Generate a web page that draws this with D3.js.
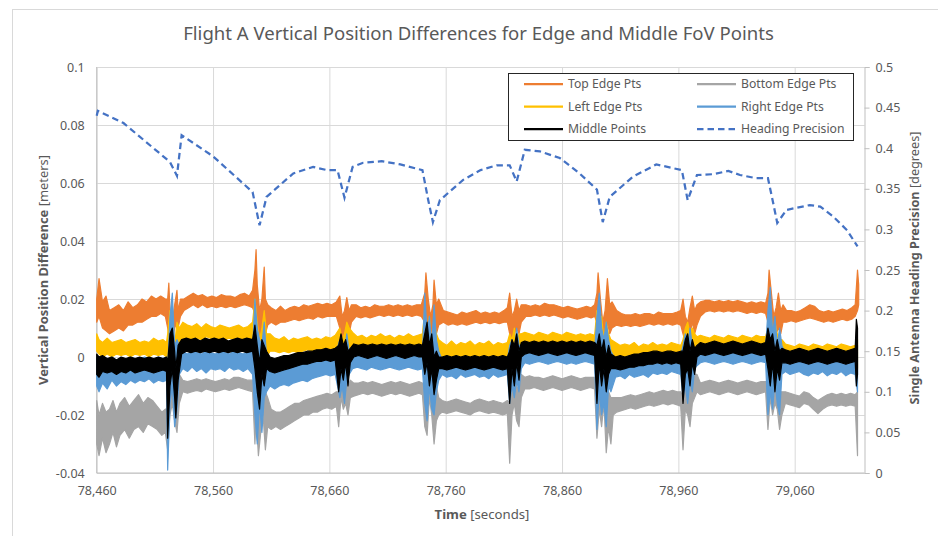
<!DOCTYPE html>
<html>
<head>
<meta charset="utf-8">
<script src="https://cdn.jsdelivr.net/npm/d3@7"></script>
<style>
  html, body { margin: 0; padding: 0; background: #fff; }
  svg { display: block; font-family: "Noto Sans", "Open Sans", sans-serif; }
</style>
</head>
<body>
<div id="vis"></div>
<script>
// ---------- DATA ----------
// each noisy series is kept as [time, low, high] envelope samples
const xTicks = [78460, 78560, 78660, 78760, 78860, 78960, 79060];
const leftTicks = [-0.04, -0.02, 0, 0.02, 0.04, 0.06, 0.08, 0.1];
const rightTicks = [0, 0.05, 0.1, 0.15, 0.2, 0.25, 0.3, 0.35, 0.4, 0.45, 0.5];

const topEdge = [
  [78460,0.012,0.020],[78462,0.014,0.027],[78465,0.010,0.019],[78468,0.009,0.021],[78471,0.008,0.016],[78475,0.009,0.017],
  [78479,0.010,0.018],[78483,0.009,0.016],[78487,0.011,0.019],[78491,0.011,0.017],[78495,0.012,0.018],[78499,0.012,0.020],
  [78503,0.013,0.019],[78507,0.014,0.021],[78511,0.014,0.020],[78515,0.015,0.021],[78519,0.014,0.020],
  [78521,0.010,0.020],[78522,0.008,0.0255],[78523,0.004,0.016],[78525,0.006,0.012],[78527,0.010,0.018],[78529,0.012,0.023],
  [78530,0.010,0.016],[78532,0.014,0.020],
  [78535,0.016,0.020],[78539,0.017,0.021],[78543,0.018,0.022],[78547,0.017,0.021],[78551,0.018,0.0215],[78555,0.017,0.0205],
  [78559,0.0175,0.021],[78563,0.017,0.0205],[78567,0.0175,0.0215],[78571,0.017,0.021],[78575,0.0175,0.021],[78579,0.017,0.0205],
  [78583,0.0175,0.0215],[78587,0.018,0.022],[78591,0.0175,0.021],[78594,0.017,0.023],
  [78596,0.015,0.030],[78597,0.018,0.037],[78598,0.008,0.025],[78600,0.005,0.016],[78602,0.010,0.020],[78604,0.012,0.031],
  [78605,0.008,0.020],[78607,0.011,0.018],
  [78610,0.012,0.017],[78614,0.011,0.016],[78618,0.012,0.0175],[78622,0.012,0.016],[78626,0.0125,0.017],[78630,0.013,0.0175],
  [78634,0.0125,0.017],[78638,0.013,0.018],[78642,0.0135,0.0175],[78646,0.013,0.018],[78650,0.014,0.0185],[78654,0.0135,0.018],
  [78658,0.014,0.0185],[78662,0.014,0.018],[78666,0.014,0.019],
  [78669,0.010,0.021],[78671,0.006,0.014],[78673,0.008,0.016],[78675,0.010,0.0205],[78677,0.008,0.016],[78679,0.012,0.018],
  [78683,0.014,0.018],[78687,0.0135,0.017],[78691,0.014,0.0175],[78695,0.0135,0.017],[78699,0.014,0.018],[78703,0.0145,0.0175],
  [78707,0.014,0.0175],[78711,0.0145,0.018],[78715,0.014,0.0175],[78719,0.0145,0.018],[78723,0.014,0.0175],[78727,0.0145,0.018],
  [78731,0.014,0.0175],[78735,0.0145,0.018],[78739,0.014,0.018],
  [78742,0.012,0.022],[78743,0.015,0.029],[78745,0.006,0.020],[78747,0.004,0.014],[78749,0.008,0.018],[78750,0.012,0.0265],
  [78752,0.008,0.018],[78754,0.011,0.020],
  [78758,0.012,0.016],[78762,0.011,0.0155],[78766,0.0115,0.015],[78770,0.011,0.0145],[78774,0.0115,0.0155],[78778,0.011,0.015],
  [78782,0.0115,0.0155],[78786,0.012,0.016],[78790,0.0115,0.015],[78794,0.012,0.0155],[78798,0.0115,0.015],[78802,0.012,0.0155],
  [78806,0.0115,0.015],[78810,0.012,0.016],[78813,0.012,0.017],
  [78815,0.008,0.022],[78817,0.006,0.014],[78819,0.008,0.016],[78821,0.010,0.020],[78823,0.008,0.016],[78825,0.012,0.018],
  [78829,0.014,0.018],[78833,0.014,0.0175],[78837,0.0145,0.018],[78841,0.014,0.0175],[78845,0.0145,0.0185],[78849,0.014,0.018],
  [78853,0.0145,0.018],[78857,0.014,0.0175],[78861,0.0135,0.017],[78865,0.014,0.0175],[78869,0.0135,0.017],[78873,0.013,0.0165],
  [78877,0.0135,0.017],[78881,0.014,0.0175],[78885,0.0135,0.017],[78888,0.014,0.018],
  [78890,0.012,0.022],[78891,0.015,0.029],[78893,0.006,0.020],[78895,0.003,0.012],[78897,0.006,0.016],[78899,0.012,0.027],
  [78901,0.008,0.018],[78903,0.010,0.019],
  [78907,0.011,0.016],[78911,0.0105,0.015],[78915,0.011,0.0145],[78919,0.0105,0.0145],[78923,0.011,0.015],[78927,0.0105,0.0145],
  [78931,0.011,0.015],[78935,0.0115,0.015],[78939,0.011,0.0145],[78943,0.0115,0.0155],[78947,0.011,0.015],[78951,0.0115,0.015],
  [78955,0.011,0.015],[78959,0.0115,0.0155],[78962,0.011,0.016],
  [78964,0.008,0.020],[78966,0.005,0.014],[78968,0.006,0.012],[78970,0.008,0.017],[78972,0.012,0.021],[78974,0.008,0.016],
  [78976,0.011,0.018],
  [78979,0.014,0.019],[78983,0.0155,0.0195],[78987,0.016,0.0195],[78991,0.0155,0.019],[78995,0.016,0.0195],[78999,0.0155,0.019],
  [79003,0.016,0.0195],[79007,0.0155,0.019],[79011,0.016,0.0195],[79015,0.0155,0.019],[79019,0.015,0.0185],[79023,0.0155,0.019],
  [79027,0.015,0.0185],[79031,0.0155,0.019],[79035,0.015,0.0185],
  [79037,0.012,0.022],[79038,0.016,0.030],[79040,0.008,0.022],[79042,0.004,0.014],[79044,0.008,0.017],[79046,0.010,0.022],
  [79048,0.008,0.016],[79050,0.012,0.018],
  [79053,0.012,0.016],[79057,0.0125,0.016],[79061,0.012,0.0155],[79065,0.0125,0.016],[79069,0.013,0.017],[79073,0.0135,0.018],
  [79077,0.013,0.0175],[79081,0.0125,0.016],[79085,0.012,0.0155],[79089,0.0125,0.016],[79093,0.012,0.0155],[79097,0.0125,0.016],
  [79101,0.013,0.0165],[79105,0.0125,0.016],[79109,0.013,0.017],[79112,0.014,0.018],
  [79114,0.016,0.030],[79115,0.018,0.025]
];

const bottomEdge = [
  [78460,-0.030,-0.015],[78462,-0.034,-0.020],[78465,-0.028,-0.016],[78468,-0.033,-0.019],[78471,-0.030,-0.018],[78474,-0.026,-0.015],
  [78477,-0.031,-0.019],[78480,-0.027,-0.016],[78484,-0.025,-0.014],[78488,-0.028,-0.017],[78492,-0.025,-0.015],[78496,-0.024,-0.013],
  [78500,-0.026,-0.016],[78504,-0.023,-0.014],[78508,-0.024,-0.015],[78512,-0.025,-0.017],[78516,-0.027,-0.019],[78519,-0.026,-0.018],
  [78521,-0.032,-0.018],[78523,-0.020,-0.004],[78525,-0.016,0.006],[78527,-0.022,-0.006],[78529,-0.026,-0.010],[78531,-0.016,-0.006],
  [78534,-0.012,-0.008],[78538,-0.0125,-0.0085],[78542,-0.012,-0.008],[78546,-0.0115,-0.0075],[78550,-0.012,-0.008],[78554,-0.011,-0.0075],
  [78558,-0.0115,-0.008],[78562,-0.012,-0.0085],[78566,-0.0115,-0.008],[78570,-0.011,-0.0075],[78574,-0.0115,-0.008],[78578,-0.011,-0.007],
  [78582,-0.0105,-0.007],[78586,-0.011,-0.0075],[78590,-0.0115,-0.008],[78594,-0.012,-0.008],
  [78596,-0.030,-0.010],[78597,-0.020,0.000],[78599,-0.034,-0.014],[78601,-0.026,-0.010],[78603,-0.020,-0.006],[78605,-0.032,-0.012],
  [78607,-0.024,-0.014],
  [78610,-0.025,-0.018],[78614,-0.024,-0.019],[78618,-0.025,-0.019],[78622,-0.024,-0.018],[78626,-0.023,-0.017],[78630,-0.022,-0.016],
  [78634,-0.021,-0.016],[78638,-0.020,-0.015],[78642,-0.020,-0.0145],[78646,-0.019,-0.014],[78650,-0.019,-0.0135],[78654,-0.018,-0.013],
  [78658,-0.0175,-0.0125],[78662,-0.018,-0.013],[78666,-0.017,-0.012],
  [78668,-0.024,-0.012],[78670,-0.014,-0.004],[78672,-0.018,-0.008],[78674,-0.016,-0.006],[78676,-0.020,-0.010],[78678,-0.014,-0.008],
  [78681,-0.0135,-0.009],[78685,-0.013,-0.009],[78689,-0.0125,-0.0085],[78693,-0.013,-0.009],[78697,-0.0125,-0.0085],[78701,-0.013,-0.009],
  [78705,-0.0135,-0.0095],[78709,-0.013,-0.009],[78713,-0.0125,-0.0085],[78717,-0.013,-0.009],[78721,-0.0125,-0.0085],[78725,-0.013,-0.009],
  [78729,-0.0135,-0.0095],[78733,-0.013,-0.009],[78737,-0.0125,-0.0085],[78740,-0.013,-0.009],
  [78742,-0.024,-0.010],[78744,-0.027,-0.008],[78746,-0.014,0.002],[78748,-0.020,-0.006],[78750,-0.030,-0.012],[78752,-0.022,-0.010],
  [78754,-0.020,-0.014],
  [78757,-0.019,-0.015],[78761,-0.0195,-0.0155],[78765,-0.019,-0.015],[78769,-0.0185,-0.0145],[78773,-0.019,-0.015],[78777,-0.0195,-0.0155],
  [78781,-0.020,-0.016],[78785,-0.019,-0.015],[78789,-0.0185,-0.0145],[78793,-0.019,-0.015],[78797,-0.0195,-0.0155],[78801,-0.019,-0.015],
  [78805,-0.0195,-0.0155],[78809,-0.020,-0.016],[78813,-0.0195,-0.015],
  [78815,-0.0366,-0.016],[78817,-0.020,-0.008],[78819,-0.016,-0.006],[78821,-0.022,-0.010],[78823,-0.024,-0.012],[78825,-0.014,-0.006],
  [78828,-0.011,-0.007],[78832,-0.011,-0.0065],[78836,-0.0105,-0.007],[78840,-0.011,-0.007],[78844,-0.0115,-0.0075],[78848,-0.011,-0.007],
  [78852,-0.0105,-0.0065],[78856,-0.011,-0.007],[78860,-0.0115,-0.0075],[78864,-0.011,-0.007],[78868,-0.0105,-0.0065],[78872,-0.011,-0.007],
  [78876,-0.0115,-0.0075],[78880,-0.011,-0.007],[78884,-0.0105,-0.007],[78888,-0.011,-0.007],
  [78890,-0.028,-0.010],[78892,-0.018,-0.004],[78894,-0.024,-0.012],[78896,-0.016,-0.004],[78898,-0.033,-0.014],[78900,-0.024,-0.012],
  [78902,-0.030,-0.014],[78904,-0.020,-0.014],
  [78907,-0.019,-0.014],[78911,-0.0185,-0.014],[78915,-0.018,-0.0135],[78919,-0.0175,-0.013],[78923,-0.018,-0.0135],[78927,-0.0175,-0.013],
  [78931,-0.017,-0.0125],[78935,-0.0165,-0.012],[78939,-0.017,-0.0125],[78943,-0.0165,-0.012],[78947,-0.016,-0.0115],[78951,-0.0165,-0.012],
  [78955,-0.016,-0.0115],[78959,-0.0165,-0.012],[78962,-0.017,-0.012],
  [78964,-0.032,-0.014],[78966,-0.018,-0.006],[78968,-0.020,-0.008],[78970,-0.024,-0.010],[78972,-0.016,-0.006],[78974,-0.014,-0.006],
  [78976,-0.012,-0.006],
  [78979,-0.013,-0.009],[78983,-0.0125,-0.0085],[78987,-0.012,-0.008],[78991,-0.0125,-0.0085],[78995,-0.013,-0.009],[78999,-0.0125,-0.0085],
  [79003,-0.012,-0.008],[79007,-0.0125,-0.0085],[79011,-0.013,-0.009],[79015,-0.0125,-0.0085],[79019,-0.012,-0.008],[79023,-0.0125,-0.0085],
  [79027,-0.013,-0.009],[79031,-0.0125,-0.0085],[79035,-0.012,-0.0085],
  [79037,-0.025,-0.010],[79039,-0.014,0.002],[79041,-0.020,-0.006],[79043,-0.016,-0.004],[79045,-0.018,-0.008],[79047,-0.025,-0.012],
  [79049,-0.020,-0.012],
  [79052,-0.016,-0.012],[79056,-0.0165,-0.0125],[79060,-0.017,-0.013],[79064,-0.0175,-0.0135],[79068,-0.016,-0.012],[79072,-0.0165,-0.0125],
  [79076,-0.018,-0.014],[79080,-0.0195,-0.015],[79084,-0.018,-0.014],[79088,-0.017,-0.013],[79092,-0.0165,-0.0125],[79096,-0.017,-0.013],
  [79100,-0.0165,-0.0125],[79104,-0.017,-0.013],[79108,-0.0165,-0.0125],[79112,-0.017,-0.013],
  [79114,-0.034,-0.012]
];

const leftEdge = [
  [78460,0.002,0.008],[78462,0.001,0.006],[78465,0.000,0.005],[78469,0.001,0.0065],[78473,0.000,0.005],[78477,0.001,0.0055],
  [78481,0.0005,0.006],[78485,0.001,0.005],[78489,0.000,0.0055],[78493,0.001,0.006],[78497,0.0005,0.005],[78501,0.001,0.0055],
  [78505,0.000,0.005],[78509,0.001,0.0065],[78513,0.0005,0.0055],[78517,0.001,0.006],[78520,0.000,0.005],
  [78521,-0.010,0.008],[78523,-0.004,0.016],[78525,-0.002,0.010],[78527,-0.012,0.004],[78529,-0.002,0.012],[78531,0.004,0.010],
  [78534,0.006,0.012],[78538,0.0065,0.011],[78542,0.006,0.0105],[78546,0.0065,0.0115],[78550,0.006,0.010],[78554,0.007,0.0115],
  [78558,0.0065,0.0105],[78562,0.006,0.010],[78566,0.0065,0.011],[78570,0.006,0.0105],[78574,0.0065,0.010],[78578,0.006,0.0105],
  [78582,0.0065,0.011],[78586,0.006,0.010],[78590,0.0065,0.0105],[78594,0.006,0.012],
  [78596,-0.004,0.020],[78598,-0.010,0.012],[78600,-0.014,0.006],[78602,-0.004,0.010],[78604,-0.010,0.016],[78606,0.000,0.008],
  [78609,0.002,0.008],[78613,0.002,0.0065],[78617,0.0015,0.006],[78621,0.002,0.007],[78625,0.0015,0.0055],[78629,0.002,0.0065],
  [78633,0.0015,0.006],[78637,0.002,0.0065],[78641,0.0025,0.007],[78645,0.002,0.006],[78649,0.0025,0.0065],[78653,0.002,0.006],
  [78657,0.0025,0.007],[78661,0.003,0.0065],[78665,0.003,0.0075],
  [78669,-0.006,0.010],[78671,-0.004,0.006],[78673,-0.006,0.008],[78675,-0.002,0.012],[78677,0.000,0.010],
  [78680,0.003,0.0085],[78684,0.003,0.007],[78688,0.0035,0.0075],[78692,0.003,0.0065],[78696,0.0035,0.0075],[78700,0.003,0.007],
  [78704,0.0035,0.008],[78708,0.003,0.007],[78712,0.0035,0.0075],[78716,0.003,0.0065],[78720,0.0035,0.0075],[78724,0.003,0.007],
  [78728,0.0035,0.008],[78732,0.003,0.007],[78736,0.0035,0.0075],[78740,0.003,0.008],
  [78742,-0.006,0.016],[78744,-0.010,0.010],[78746,-0.004,0.014],[78748,-0.008,0.004],[78750,-0.004,0.012],[78752,0.000,0.008],
  [78754,-0.002,0.006],
  [78757,0.000,0.005],[78761,0.0005,0.004],[78765,0.000,0.0055],[78769,0.0005,0.004],[78773,0.000,0.005],[78777,0.0005,0.0045],
  [78781,0.000,0.0055],[78785,0.0005,0.004],[78789,0.000,0.005],[78793,0.0005,0.0045],[78797,0.000,0.0055],[78801,0.0005,0.004],
  [78805,0.000,0.005],[78809,0.0005,0.0045],[78813,0.000,0.005],
  [78815,-0.010,0.008],[78817,-0.006,0.006],[78819,-0.004,0.010],[78821,-0.008,0.004],[78823,-0.002,0.008],[78825,0.002,0.008],
  [78828,0.004,0.0085],[78832,0.0045,0.008],[78836,0.004,0.0075],[78840,0.0045,0.0085],[78844,0.004,0.008],[78848,0.0045,0.0075],
  [78852,0.004,0.0085],[78856,0.0045,0.008],[78860,0.004,0.0075],[78864,0.0045,0.0085],[78868,0.004,0.008],[78872,0.0035,0.0075],
  [78876,0.004,0.008],[78880,0.0035,0.0075],[78884,0.004,0.008],[78888,0.0035,0.0075],
  [78890,-0.006,0.016],[78892,-0.012,0.008],[78894,-0.004,0.014],[78896,-0.010,0.006],[78898,-0.002,0.012],[78900,-0.006,0.008],
  [78902,-0.002,0.006],
  [78906,-0.002,0.005],[78910,-0.004,0.004],[78914,-0.001,0.0045],[78918,-0.0045,0.004],[78922,-0.002,0.005],[78926,-0.003,0.0035],
  [78930,-0.001,0.0045],[78934,-0.004,0.004],[78938,-0.002,0.005],[78942,-0.003,0.004],[78946,-0.001,0.0045],[78950,-0.004,0.004],
  [78954,-0.002,0.005],[78958,-0.003,0.0045],[78962,-0.006,0.004],
  [78964,-0.008,0.006],[78966,-0.004,0.010],[78968,-0.002,0.012],[78970,-0.006,0.008],[78972,0.000,0.010],[78974,0.002,0.008],
  [78976,0.002,0.007],
  [78979,0.002,0.0075],[78983,0.0025,0.007],[78987,0.002,0.0065],[78991,0.0025,0.0075],[78995,0.002,0.007],[78999,0.0025,0.0065],
  [79003,0.002,0.0075],[79007,0.0025,0.007],[79011,0.002,0.0065],[79015,0.0025,0.0075],[79019,0.002,0.007],[79023,0.0025,0.0065],
  [79027,0.002,0.0075],[79031,0.0025,0.007],[79035,0.002,0.007],
  [79037,-0.006,0.010],[79039,-0.004,0.020],[79041,-0.010,0.008],[79043,-0.006,0.012],[79045,-0.002,0.008],[79047,-0.008,0.006],
  [79049,0.000,0.006],
  [79052,-0.002,0.0045],[79056,-0.001,0.004],[79060,-0.003,0.0035],[79064,-0.0015,0.0045],[79068,-0.004,0.004],[79072,-0.002,0.0035],
  [79076,-0.001,0.0045],[79080,-0.003,0.004],[79084,-0.0015,0.0035],[79088,-0.004,0.0045],[79092,-0.002,0.004],[79096,-0.001,0.0035],
  [79100,-0.003,0.0045],[79104,-0.0015,0.004],[79108,-0.004,0.0035],[79112,-0.002,0.004],
  [79114,-0.004,0.006]
];

const rightEdge = [
  [78460,-0.010,0.000],[78462,-0.012,-0.001],[78465,-0.009,0.000],[78469,-0.011,-0.001],[78473,-0.008,0.000],[78477,-0.010,-0.001],
  [78481,-0.0085,-0.0005],[78485,-0.0095,-0.001],[78489,-0.008,0.000],[78493,-0.009,-0.0005],[78497,-0.008,-0.001],[78501,-0.0085,0.000],
  [78505,-0.0075,-0.0005],[78509,-0.009,-0.001],[78513,-0.008,0.000],[78517,-0.0085,-0.0005],[78520,-0.008,0.000],
  [78521,-0.039,-0.004],[78523,-0.016,0.014],[78525,-0.010,0.022],[78527,-0.024,0.004],[78529,-0.018,0.006],[78531,-0.006,0.004],
  [78534,-0.004,0.002],[78538,-0.005,0.001],[78542,-0.0035,0.002],[78546,-0.005,0.0015],[78550,-0.004,0.001],[78554,-0.0055,0.002],
  [78558,-0.004,0.0015],[78562,-0.0045,0.001],[78566,-0.004,0.002],[78570,-0.005,0.0015],[78574,-0.0035,0.001],[78578,-0.0045,0.002],
  [78582,-0.004,0.0015],[78586,-0.005,0.001],[78590,-0.004,0.002],[78594,-0.006,0.002],
  [78596,-0.020,0.020],[78598,-0.030,0.010],[78600,-0.016,0.006],[78602,-0.026,0.004],[78604,-0.014,0.012],[78606,-0.012,0.000],
  [78609,-0.010,-0.003],[78613,-0.011,-0.004],[78617,-0.010,-0.003],[78621,-0.0095,-0.003],[78625,-0.010,-0.0035],[78629,-0.009,-0.0025],
  [78633,-0.0085,-0.002],[78637,-0.008,-0.0015],[78641,-0.0085,-0.002],[78645,-0.0075,-0.001],[78649,-0.007,-0.001],[78653,-0.0065,-0.0005],
  [78657,-0.006,0.000],[78661,-0.0065,0.000],[78665,-0.006,0.0005],
  [78669,-0.014,0.006],[78671,-0.010,0.004],[78673,-0.016,0.002],[78675,-0.008,0.008],[78677,-0.006,0.002],
  [78680,-0.004,0.001],[78684,-0.0035,0.0015],[78688,-0.004,0.001],[78692,-0.0045,0.0005],[78696,-0.0035,0.001],[78700,-0.004,0.0015],
  [78704,-0.0045,0.001],[78708,-0.004,0.0005],[78712,-0.0035,0.001],[78716,-0.004,0.0015],[78720,-0.0045,0.001],[78724,-0.004,0.0005],
  [78728,-0.0035,0.001],[78732,-0.004,0.0015],[78736,-0.0045,0.001],[78740,-0.004,0.001],
  [78742,-0.016,0.022],[78744,-0.022,0.008],[78746,-0.010,0.014],[78748,-0.018,0.004],[78750,-0.020,0.018],[78752,-0.012,0.006],
  [78754,-0.008,0.002],
  [78757,-0.006,-0.001],[78761,-0.007,-0.0015],[78765,-0.0065,-0.001],[78769,-0.0075,-0.002],[78773,-0.006,-0.001],[78777,-0.007,-0.0015],
  [78781,-0.0065,-0.001],[78785,-0.006,-0.0005],[78789,-0.007,-0.0015],[78793,-0.0065,-0.001],[78797,-0.0075,-0.002],[78801,-0.006,-0.001],
  [78805,-0.007,-0.0015],[78809,-0.0065,-0.001],[78813,-0.006,-0.001],
  [78815,-0.016,0.004],[78817,-0.010,0.006],[78819,-0.014,0.002],[78821,-0.008,0.010],[78823,-0.012,0.004],[78825,-0.004,0.004],
  [78828,-0.002,0.003],[78832,-0.0025,0.0025],[78836,-0.002,0.003],[78840,-0.0015,0.0035],[78844,-0.002,0.003],[78848,-0.0025,0.0025],
  [78852,-0.002,0.003],[78856,-0.0015,0.0035],[78860,-0.002,0.003],[78864,-0.0025,0.0025],[78868,-0.002,0.003],[78872,-0.0025,0.0025],
  [78876,-0.002,0.003],[78880,-0.0015,0.0035],[78884,-0.002,0.003],[78888,-0.0025,0.0025],
  [78890,-0.025,0.014],[78892,-0.012,0.022],[78894,-0.020,0.010],[78896,-0.016,0.006],[78898,-0.024,0.012],[78900,-0.010,0.006],
  [78902,-0.012,0.002],
  [78906,-0.007,-0.001],[78910,-0.0065,-0.0005],[78914,-0.0075,-0.0015],[78918,-0.006,-0.0005],[78922,-0.007,-0.001],[78926,-0.0065,0.000],
  [78930,-0.006,-0.0005],[78934,-0.007,-0.001],[78938,-0.0055,0.000],[78942,-0.006,-0.0005],[78946,-0.0055,0.0005],[78950,-0.006,0.000],
  [78954,-0.005,0.0005],[78958,-0.0055,0.000],[78962,-0.006,0.0005],
  [78964,-0.014,0.004],[78966,-0.010,0.008],[78968,-0.016,0.002],[78970,-0.008,0.010],[78972,-0.012,0.004],[78974,-0.004,0.003],
  [78976,-0.003,0.003],
  [78979,-0.002,0.0035],[78983,-0.0015,0.004],[78987,-0.002,0.003],[78991,-0.0025,0.0035],[78995,-0.002,0.004],[78999,-0.0015,0.003],
  [79003,-0.002,0.0035],[79007,-0.0025,0.004],[79011,-0.002,0.003],[79015,-0.0015,0.0035],[79019,-0.002,0.004],[79023,-0.0025,0.003],
  [79027,-0.002,0.0035],[79031,-0.0015,0.004],[79035,-0.002,0.003],
  [79037,-0.020,0.016],[79039,-0.012,0.024],[79041,-0.018,0.008],[79043,-0.008,0.014],[79045,-0.016,0.004],[79047,-0.020,0.010],
  [79049,-0.006,0.004],
  [79052,-0.005,0.001],[79056,-0.006,0.0005],[79060,-0.0055,0.0015],[79064,-0.005,0.001],[79068,-0.006,0.000],[79072,-0.0065,0.0005],
  [79076,-0.0055,0.0015],[79080,-0.006,0.001],[79084,-0.005,0.0005],[79088,-0.0065,0.000],[79092,-0.0055,0.001],[79096,-0.006,0.0015],
  [79100,-0.005,0.001],[79104,-0.0065,0.0005],[79108,-0.0055,0.001],[79112,-0.006,0.001],
  [79114,-0.012,0.004]
];

const middlePts = [
  [78460,-0.006,0.001],[78462,-0.007,0.000],[78465,-0.005,0.0005],[78469,-0.0055,-0.0005],[78473,-0.005,0.000],[78477,-0.006,-0.001],
  [78481,-0.005,0.000],[78485,-0.0055,-0.0005],[78489,-0.0045,0.000],[78493,-0.0055,-0.0005],[78497,-0.005,0.000],[78501,-0.0045,-0.0005],
  [78505,-0.005,0.000],[78509,-0.0055,-0.0005],[78513,-0.005,0.000],[78517,-0.0045,-0.0005],[78520,-0.005,0.000],
  [78521,-0.028,-0.002],[78523,-0.010,0.008],[78525,-0.004,0.010],[78527,-0.014,0.002],[78528,-0.021,-0.004],[78530,-0.008,0.004],
  [78533,0.001,0.006],[78537,0.002,0.0065],[78541,0.0015,0.006],[78545,0.002,0.0065],[78549,0.0015,0.0055],[78553,0.002,0.0065],
  [78557,0.0015,0.006],[78561,0.002,0.0065],[78565,0.0015,0.006],[78569,0.002,0.0065],[78573,0.0015,0.0055],[78577,0.002,0.006],
  [78581,0.0015,0.0065],[78585,0.002,0.006],[78589,0.0015,0.0065],[78594,0.002,0.006],
  [78596,-0.004,0.011],[78598,-0.012,0.004],[78600,-0.018,-0.002],[78602,-0.006,0.006],[78604,-0.010,0.004],[78606,-0.004,0.002],
  [78609,-0.005,0.000],[78613,-0.0055,-0.0005],[78617,-0.005,0.000],[78621,-0.0045,0.0005],[78625,-0.004,0.0005],[78629,-0.0035,0.001],
  [78633,-0.003,0.0015],[78637,-0.0025,0.0015],[78641,-0.0025,0.002],[78645,-0.002,0.002],[78649,-0.0015,0.0025],[78653,-0.0015,0.0025],
  [78657,-0.001,0.003],[78661,-0.0015,0.0025],[78665,-0.001,0.003],
  [78668,-0.012,0.004],[78670,-0.004,0.008],[78672,-0.008,0.004],[78674,-0.002,0.006],[78676,-0.010,0.002],[78678,-0.002,0.003],
  [78681,0.000,0.0045],[78685,0.0005,0.004],[78689,0.000,0.0045],[78693,-0.0005,0.004],[78697,0.000,0.0045],[78701,0.0005,0.004],
  [78705,0.000,0.0045],[78709,-0.0005,0.004],[78713,0.000,0.0045],[78717,0.0005,0.004],[78721,0.000,0.0045],[78725,-0.0005,0.004],
  [78729,0.000,0.0045],[78733,0.0005,0.004],[78737,0.000,0.0045],[78740,0.000,0.004],
  [78742,-0.006,0.008],[78744,-0.002,0.012],[78746,-0.010,0.004],[78748,-0.004,0.008],[78750,-0.013,0.000],[78752,-0.008,0.002],
  [78754,-0.004,0.000],
  [78757,-0.004,0.000],[78761,-0.0045,0.0005],[78765,-0.004,0.000],[78769,-0.0035,0.0005],[78773,-0.004,0.000],[78777,-0.0045,0.0005],
  [78781,-0.004,0.000],[78785,-0.0035,0.0005],[78789,-0.004,0.000],[78793,-0.0045,0.0005],[78797,-0.004,0.000],[78801,-0.0035,0.0005],
  [78805,-0.004,0.000],[78809,-0.0045,0.0005],[78813,-0.004,0.000],
  [78815,-0.016,0.002],[78817,-0.004,0.006],[78819,-0.010,0.004],[78821,-0.002,0.008],[78823,-0.008,0.002],[78825,0.000,0.005],
  [78828,0.001,0.0055],[78832,0.0015,0.005],[78836,0.001,0.0055],[78840,0.0005,0.005],[78844,0.001,0.0055],[78848,0.0015,0.005],
  [78852,0.001,0.0055],[78856,0.0005,0.005],[78860,0.001,0.0055],[78864,0.0015,0.005],[78868,0.001,0.0055],[78872,0.0005,0.005],
  [78876,0.001,0.0055],[78880,0.0015,0.005],[78884,0.001,0.0055],[78888,0.0005,0.005],
  [78890,-0.016,0.004],[78892,-0.002,0.008],[78894,-0.010,0.002],[78896,-0.004,0.006],[78898,-0.012,0.000],[78900,-0.006,0.004],
  [78902,-0.004,0.001],
  [78906,-0.004,0.000],[78910,-0.0045,0.0005],[78914,-0.004,0.000],[78918,-0.0035,0.0005],[78922,-0.0035,0.001],[78926,-0.003,0.001],
  [78930,-0.003,0.0015],[78934,-0.0025,0.0015],[78938,-0.0025,0.002],[78942,-0.002,0.002],[78946,-0.0025,0.0015],[78950,-0.002,0.002],
  [78954,-0.0025,0.002],[78958,-0.002,0.0015],[78962,-0.0025,0.002],
  [78964,-0.016,0.002],[78966,-0.006,0.006],[78968,-0.004,0.008],[78970,-0.010,0.002],[78972,-0.002,0.006],[78974,-0.006,0.003],
  [78976,0.000,0.004],
  [78979,0.001,0.005],[78983,0.0005,0.0045],[78987,0.001,0.005],[78991,0.0015,0.0055],[78995,0.001,0.005],[78999,0.0005,0.0045],
  [79003,0.001,0.005],[79007,0.0015,0.0055],[79011,0.001,0.005],[79015,0.0005,0.0045],[79019,0.001,0.005],[79023,0.0015,0.0055],
  [79027,0.001,0.005],[79031,0.0005,0.0045],[79035,0.001,0.005],
  [79037,-0.004,0.010],[79039,-0.010,0.006],[79041,-0.002,0.008],[79043,-0.012,0.002],[79045,-0.004,0.006],[79047,-0.008,0.002],
  [79049,-0.002,0.003],
  [79052,-0.002,0.0025],[79056,-0.0025,0.002],[79060,-0.002,0.0025],[79064,-0.0015,0.003],[79068,-0.002,0.0025],[79072,-0.0025,0.002],
  [79076,-0.002,0.0025],[79080,-0.0015,0.003],[79084,-0.002,0.0025],[79088,-0.0025,0.002],[79092,-0.002,0.0025],[79096,-0.0015,0.003],
  [79100,-0.002,0.0025],[79104,-0.0025,0.002],[79108,-0.002,0.0025],[79112,-0.0015,0.003],
  [79113,-0.010,0.013],[79114,-0.006,0.010]
];

// heading precision on the secondary axis [time, degrees]
const headingTime = [78460, 78461, 78483, 78523, 78529, 78533, 78560, 78594, 78600, 78606, 78629, 78646, 78658, 78667, 78673,
  78680, 78689, 78705, 78721, 78740, 78745, 78749, 78755, 78775, 78790, 78804, 78815, 78821, 78828, 78841, 78858, 78875, 78890,
  78895, 78901, 78921, 78941, 78963, 78968, 78976, 78990, 79003, 79013, 79027, 79037, 79041, 79045, 79053, 79073, 79082, 79093,
  79105, 79114];
const headingValue = [0.440, 0.446, 0.431, 0.383, 0.366, 0.416, 0.390, 0.346, 0.305, 0.340, 0.369, 0.377, 0.373, 0.373, 0.339,
  0.377, 0.382, 0.384, 0.380, 0.373, 0.336, 0.309, 0.336, 0.361, 0.373, 0.379, 0.379, 0.359, 0.398, 0.396, 0.388, 0.369, 0.349,
  0.309, 0.340, 0.365, 0.380, 0.373, 0.336, 0.367, 0.368, 0.372, 0.367, 0.363, 0.363, 0.336, 0.308, 0.324, 0.330, 0.328, 0.316,
  0.299, 0.279];

const seriesNames = ["Top Edge Pts", "Bottom Edge Pts", "Left Edge Pts", "Right Edge Pts", "Middle Points", "Heading Precision"];
const seriesColors = ["#ED7D31", "#A5A5A5", "#FFC000", "#5B9BD5", "#000000", "#4472C4"];

// ---------- FRAME ----------
const WIDTH = 938, HEIGHT = 536;
const MARGINS = { left: 96.7, right: 73.5, top: 67, bottom: 63 };
const VIS_WIDTH = WIDTH - MARGINS.left - MARGINS.right;
const VIS_HEIGHT = HEIGHT - MARGINS.top - MARGINS.bottom;
const TEXT = "#595959";
const GRID = "#D9D9D9";

const svg = d3.select("#vis").append("svg")
  .attr("width", WIDTH).attr("height", HEIGHT);

// outer chart border (only top and left are visible in the picture)
svg.append("rect")
  .attr("x", 12.5).attr("y", 9.5).attr("width", 960).attr("height", 560)
  .attr("fill", "none").attr("stroke", GRID);

const x = d3.scaleLinear().domain([78460, 79120]).range([MARGINS.left, WIDTH - MARGINS.right]);
const yL = d3.scaleLinear().domain([-0.04, 0.1]).range([HEIGHT - MARGINS.bottom, MARGINS.top]);
const yR = d3.scaleLinear().domain([0, 0.5]).range([HEIGHT - MARGINS.bottom, MARGINS.top]);

// fit a text element to a measured width from the picture
function fitWidth(sel, target) {
  const size = parseFloat(sel.attr("font-size"));
  const w = sel.node().getComputedTextLength();
  if (w > 0) sel.attr("font-size", (size * target / w).toFixed(2));
}

// ---------- GRID ----------
svg.append("g")
  .attr("transform", `translate(0,${HEIGHT - MARGINS.bottom})`)
  .call(d3.axisBottom(x).tickValues(xTicks).tickSize(-VIS_HEIGHT).tickFormat(""))
  .call(g => g.select(".domain").remove())
  .call(g => g.selectAll("line").attr("stroke", GRID));

svg.append("g")
  .attr("transform", `translate(${MARGINS.left},0)`)
  .call(d3.axisLeft(yL).tickValues(leftTicks).tickSize(-VIS_WIDTH).tickFormat(""))
  .call(g => g.select(".domain").remove())
  .call(g => g.selectAll("line").attr("stroke", GRID));

// axis lines
svg.append("line")
  .attr("x1", MARGINS.left).attr("x2", WIDTH - MARGINS.right)
  .attr("y1", yL(-0.04)).attr("y2", yL(-0.04))
  .attr("stroke", "#BFBFBF");
svg.append("line")
  .attr("x1", MARGINS.left).attr("x2", MARGINS.left)
  .attr("y1", MARGINS.top).attr("y2", HEIGHT - MARGINS.bottom)
  .attr("stroke", "#BFBFBF");

// ---------- AXES ----------
const fmtL = v => v === 0 ? "0" : String(+v.toFixed(2));

svg.append("g")
  .attr("transform", `translate(${MARGINS.left},0)`)
  .call(d3.axisLeft(yL).tickValues(leftTicks).tickSize(0).tickPadding(12).tickFormat(fmtL))
  .call(g => g.select(".domain").remove())
  .call(g => g.selectAll("text").attr("fill", TEXT).attr("font-size", 12.5)
    .attr("font-family", "'Noto Sans', sans-serif"));

svg.append("g")
  .attr("transform", `translate(${WIDTH - MARGINS.right},0)`)
  .call(d3.axisRight(yR).tickValues(rightTicks).tickSize(5).tickPadding(6).tickFormat(fmtL))
  .call(g => g.select(".domain").attr("stroke", "#BFBFBF"))
  .call(g => g.selectAll("line").attr("stroke", "#BFBFBF"))
  .call(g => g.selectAll("text").attr("fill", TEXT).attr("font-size", 12.5)
    .attr("font-family", "'Noto Sans', sans-serif"));

svg.append("g")
  .attr("transform", `translate(0,${HEIGHT - MARGINS.bottom})`)
  .call(d3.axisBottom(x).tickValues(xTicks).tickSize(0).tickPadding(13).tickFormat(d3.format(",")))
  .call(g => g.select(".domain").remove())
  .call(g => g.selectAll("text").attr("fill", TEXT).attr("font-size", 12.5)
    .attr("font-family", "'Noto Sans', sans-serif"));

// ---------- SERIES ----------
const band = d3.area()
  .x(d => x(d[0]))
  .y0(d => yL(d[1]))
  .y1(d => yL(d[2]));

const bands = [topEdge, bottomEdge, leftEdge, rightEdge, middlePts];
bands.forEach((data, i) => {
  svg.append("path")
    .datum(data)
    .attr("d", band)
    .attr("fill", seriesColors[i])
    .attr("stroke", seriesColors[i])
    .attr("stroke-width", 1.2)
    .attr("stroke-linejoin", "round");
});

const heading = headingTime.map((t, i) => [t, headingValue[i]]);
svg.append("path")
  .datum(heading)
  .attr("d", d3.line().x(d => x(d[0])).y(d => yR(d[1])))
  .attr("fill", "none")
  .attr("stroke", seriesColors[5])
  .attr("stroke-width", 2.25)
  .attr("stroke-dasharray", "6.5,4");

// ---------- TITLES ----------
const title = svg.append("text")
  .attr("x", 478.5).attr("y", 40)
  .attr("text-anchor", "middle")
  .attr("font-size", 19)
  .attr("fill", TEXT)
  .text("Flight A Vertical Position Differences for Edge and Middle FoV Points");
fitWidth(title, 591);

function axisTitle(bold, rest, tx, ty, rot, target) {
  const t = svg.append("text")
    .attr("transform", `translate(${tx},${ty}) rotate(${rot})`)
    .attr("text-anchor", "middle")
    .attr("dy", "0.35em")
    .attr("font-size", 13)
    .attr("fill", TEXT);
  t.append("tspan").attr("font-weight", "bold").text(bold);
  t.append("tspan").text(" " + rest);
  fitWidth(t, target);
}
axisTitle("Vertical Position Difference", "[meters]", 43, 270, -90, 230);
axisTitle("Single Antenna Heading Precision", "[degrees]", 915, 268, -90, 273);
axisTitle("Time", "[seconds]", 482, 514, 0, 95);

// ---------- LEGEND ----------
const legend = svg.append("g");
legend.append("rect")
  .attr("x", 508.5).attr("y", 73.5).attr("width", 345).attr("height", 67)
  .attr("fill", "#fff").attr("stroke", "#262626").attr("stroke-width", 1);

const legendCols = [524, 697];
const legendRows = [84, 106.5, 129];
seriesNames.forEach((name, i) => {
  const cx = legendCols[i % 2];
  const cy = legendRows[Math.floor(i / 2)];
  legend.append("line")
    .attr("x1", cx).attr("x2", cx + 39).attr("y1", cy).attr("y2", cy)
    .attr("stroke", seriesColors[i])
    .attr("stroke-width", 2.25)
    .attr("stroke-dasharray", i === 5 ? "6.5,4" : null);
  legend.append("text")
    .attr("x", cx + 44).attr("y", cy).attr("dy", "0.35em")
    .attr("font-size", 12.2)
    .attr("fill", TEXT)
    .text(name);
});
</script>
</body>
</html>
